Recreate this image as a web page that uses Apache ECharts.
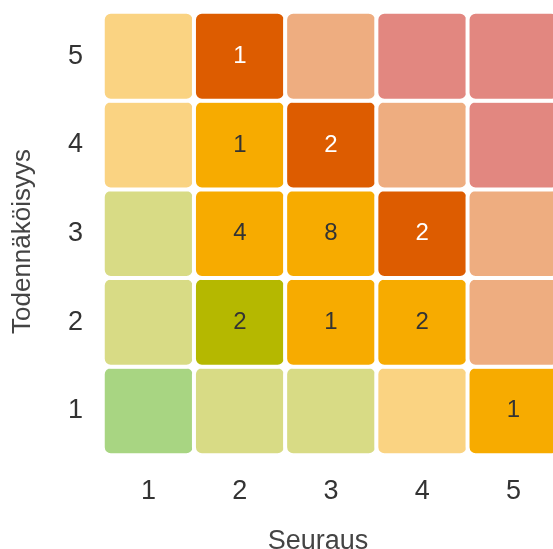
<!DOCTYPE html>
<html>
<head>
<meta charset="utf-8">
<script src="https://cdn.jsdelivr.net/npm/echarts@6/dist/echarts.min.js"></script>
<style>
  html, body { margin: 0; padding: 0; background: #fff; }
  #riskChart { width: 553px; height: 549px; }
</style>
</head>
<body>
<div id="riskChart"></div>
<script>
// akselit
const seuraus = ['1', '2', '3', '4', '5']
const todennakoisyys = ['1', '2', '3', '4', '5']

// riskien lukumäärät [seuraus, todennäköisyys, määrä]
const counts = [
  [1, 1, 0], [2, 1, 0], [3, 1, 0], [4, 1, 0], [5, 1, 1],
  [1, 2, 0], [2, 2, 2], [3, 2, 1], [4, 2, 2], [5, 2, 0],
  [1, 3, 0], [2, 3, 4], [3, 3, 8], [4, 3, 2], [5, 3, 0],
  [1, 4, 0], [2, 4, 1], [3, 4, 2], [4, 4, 0], [5, 4, 0],
  [1, 5, 0], [2, 5, 1], [3, 5, 0], [4, 5, 0], [5, 5, 0]
]

// riskitaso per solu, rivit todennäköisyys 1..5, sarakkeet seuraus 1..5
const levels = [
  [0, 1, 1, 2, 2],
  [1, 1, 2, 2, 3],
  [1, 2, 2, 3, 3],
  [2, 2, 3, 3, 4],
  [2, 3, 3, 4, 4]
]

// tason värit: täysi (kun riskejä on) ja vaalea (tyhjä solu)
const fullColors = ['#7cc242', '#b5b800', '#f7ab00', '#dd5c00', '#c5201a']
const lightColors = ['#a8d582', '#d8db85', '#fad382', '#eead80', '#e28780']
const textColors = ['#333', '#333', '#333', '#fff', '#fff']

const getInitEcharts = () => {
  const chartDom = document.getElementById('riskChart')
  const myChart = echarts.init(chartDom)

  const data = counts.map(([x, y, v]) => {
    const lvl = levels[y - 1][x - 1]
    return {
      value: [x - 1, y - 1, v],
      itemStyle: { color: v > 0 ? fullColors[lvl] : lightColors[lvl] },
      label: { color: textColors[lvl] }
    }
  })

  const option = {
    animation: false,
    grid: {
      left: 103,
      top: 12,
      width: 456,
      height: 443,
      outerBoundsMode: 'none',
      containLabel: false
    },
    xAxis: {
      type: 'category',
      data: seuraus,
      name: 'Seuraus',
      nameLocation: 'middle',
      nameGap: 73,
      // nimi hieman vasemmalle kuten alkuperäisessä
      nameTextStyle: { fontSize: 27, color: '#444', fontFamily: 'Liberation Sans', padding: [0, 26, 0, 0] },
      axisLine: { show: false },
      axisTick: { show: false },
      axisLabel: { fontSize: 27, color: '#333', margin: 23, fontFamily: 'Liberation Sans' },
      splitArea: { show: false }
    },
    yAxis: {
      type: 'category',
      data: todennakoisyys,
      name: 'Todennäköisyys',
      nameLocation: 'middle',
      nameGap: 67,
      nameTextStyle: { fontSize: 26, color: '#444', fontFamily: 'Liberation Sans', padding: [0, 16, 0, 0] },
      axisLine: { show: false },
      axisTick: { show: false },
      axisLabel: { fontSize: 27, color: '#333', margin: 20, fontFamily: 'Liberation Sans' },
      splitArea: { show: false }
    },
    series: [
      {
        type: 'heatmap',
        data: data,
        itemStyle: {
          borderColor: '#fff',
          borderWidth: 4,
          borderRadius: 8
        },
        label: {
          show: true,
          fontSize: 24,
          fontFamily: 'Liberation Sans',
          formatter: (p) => (p.value[2] > 0 ? p.value[2] : '')
        },
        emphasis: { disabled: true }
      }
    ]
  }
  myChart.setOption(option)
}

getInitEcharts()
</script>
</body>
</html>
